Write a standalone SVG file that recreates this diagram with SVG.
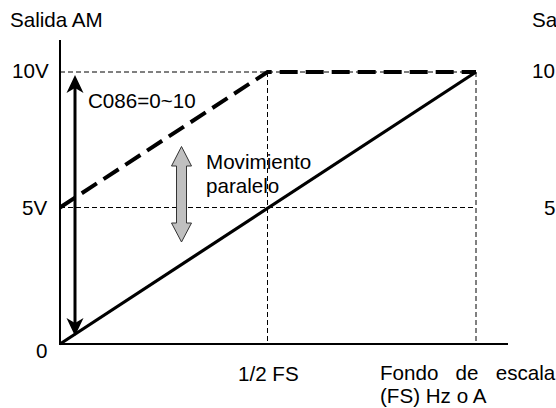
<svg xmlns="http://www.w3.org/2000/svg" width="556" height="408" viewBox="0 0 556 408">
<style>
text{font-family:"Liberation Sans",Arial,sans-serif;font-size:20.6px;fill:#000}
.grid{stroke:#000;stroke-width:1;stroke-dasharray:5 3;fill:none}
.axis{stroke:#000;stroke-width:2;fill:none}
</style>
<rect width="556" height="408" fill="#fff"/>
<g id="grid">
<line class="grid" x1="60" y1="72" x2="476" y2="72"/>
<line class="grid" x1="60" y1="207.5" x2="476" y2="207.5"/>
<line class="grid" x1="267.5" y1="72" x2="267.5" y2="344"/>
<line class="grid" x1="476" y1="72" x2="476" y2="344"/>
</g>
<g id="axes">
<line class="axis" x1="60" y1="40" x2="60" y2="345"/>
<line class="axis" x1="59" y1="344" x2="508" y2="344"/>
</g>
<g id="connectors">
<line x1="60" y1="344" x2="476" y2="72" stroke="#000" stroke-width="3.2"/>
<polyline points="60,207.5 267.5,72 476,72" fill="none" stroke="#000" stroke-width="4" stroke-dasharray="18 8"/>
<line x1="75" y1="86" x2="75" y2="326" stroke="#000" stroke-width="3"/>
<path d="M75,75 L66.5,93 L75,88 L83.5,93 Z" fill="#000"/>
<path d="M75,336 L66.5,318 L75,323 L83.5,318 Z" fill="#000"/>
</g>
<g id="gray-arrow">
<path d="M181.5,146.5 L191.5,166 L186.5,166 L186.5,223 L191.5,223 L181.5,242 L171.5,223 L176.5,223 L176.5,166 L171.5,166 Z" fill="#c0c0c0" stroke="#333" stroke-width="1"/>
</g>
<g id="labels">
<text x="10" y="27">Salida AM</text>
<text x="12" y="78">10V</text>
<text x="22" y="215">5V</text>
<text x="36" y="358">0</text>
<text x="88" y="108">C086=0~10</text>
<text x="206" y="169">Movimiento</text>
<text x="206" y="193">paralelo</text>
<text x="238" y="381">1/2 FS</text>
<text x="380" y="380" word-spacing="11.5">Fondo de escala</text>
<text x="380" y="403">(FS) Hz o A</text>
<text x="532" y="27">Sa</text>
<text x="532" y="78">10</text>
<text x="544" y="215">5</text>
</g>
</svg>
